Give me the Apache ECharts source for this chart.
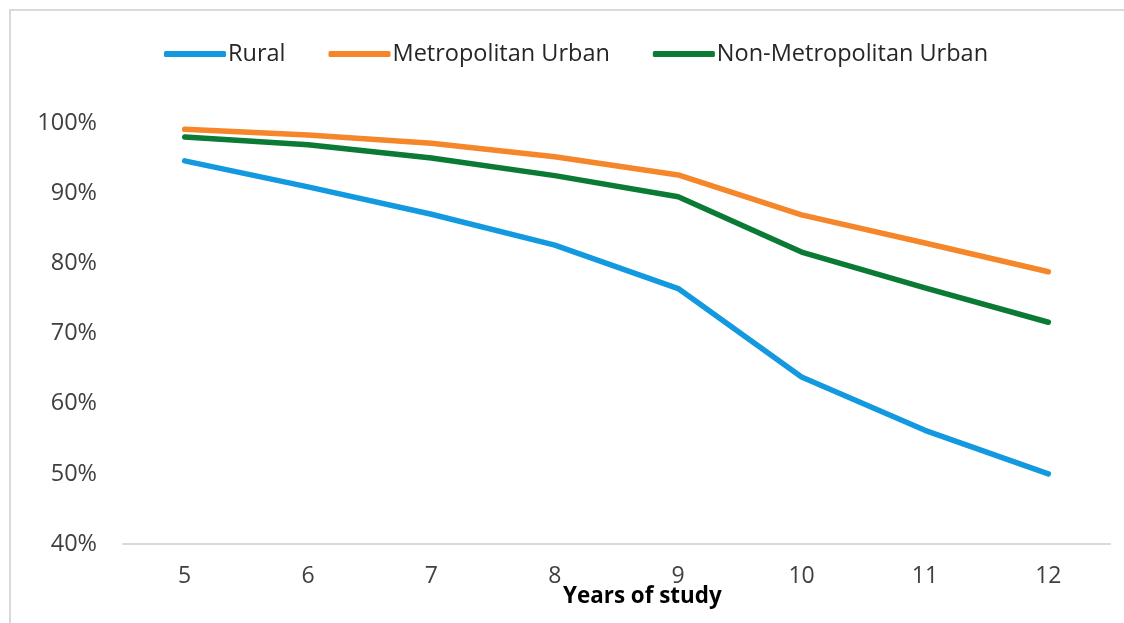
<!DOCTYPE html>
<html>
<head>
<meta charset="utf-8">
<script src="https://cdn.jsdelivr.net/npm/echarts@6/dist/echarts.min.js"></script>
<style>
  html, body { margin: 0; padding: 0; background: #ffffff; }
  #chart { width: 1124px; height: 623px; }
</style>
</head>
<body>
<div id="chart"></div>
<script>
// Share of students still enrolled, by years of study and area type (%)
const years = ['5', '6', '7', '8', '9', '10', '11', '12'];
const rural = [94.6, 90.9, 87.0, 82.6, 76.4, 63.8, 56.2, 50.0];
const metroUrban = [99.1, 98.3, 97.1, 95.2, 92.6, 86.9, 82.9, 78.8];
const nonMetroUrban = [98.0, 96.9, 95.0, 92.5, 89.5, 81.6, 76.5, 71.6];
const seriesNames = ['Rural', 'Metropolitan Urban', 'Non-Metropolitan Urban'];

const FONT = '"Open Sans", "Liberation Sans", sans-serif';
const colors = ['#1399DF', '#F5862A', '#0B7A34'];

const chart = echarts.init(document.getElementById('chart'), null, { renderer: 'canvas' });

function lineSeries(name, data, color) {
  return {
    name: name,
    type: 'line',
    data: data,
    symbol: 'none',
    smooth: false,
    lineStyle: { width: 5.5, color: color, cap: 'round', join: 'round' },
    itemStyle: { color: color }
  };
}

chart.setOption({
  animation: false,
  backgroundColor: '#ffffff',
  grid: { left: 123, right: 14, top: 123, bottom: 79, containLabel: false },
  legend: {
    top: 37,
    left: 159,
    itemWidth: 62,
    itemHeight: 6,
    itemGap: 43,
    icon: 'roundRect',
    textStyle: { fontFamily: FONT, fontSize: 23.5, color: '#262626', padding: [0, 0, 0, -3] },
    data: seriesNames
  },
  xAxis: {
    type: 'category',
    data: years,
    boundaryGap: true,
    axisLine: { show: true, lineStyle: { color: '#d9d9d9', width: 2 } },
    axisTick: { show: false },
    axisLabel: { fontFamily: FONT, fontSize: 23, color: '#404040', margin: 21 },
    splitLine: { show: false }
  },
  yAxis: {
    type: 'value',
    min: 40,
    max: 100,
    interval: 10,
    axisLine: { show: false },
    axisTick: { show: false },
    splitLine: { show: false },
    axisLabel: {
      fontFamily: FONT, fontSize: 23.5, color: '#404040', margin: 26,
      formatter: v => v + '%'
    }
  },
  graphic: [
    {
      type: 'rect',
      shape: { x: 10, y: 10, width: 1130, height: 630 },
      style: { fill: 'none', stroke: '#d9d9d9', lineWidth: 2 },
      silent: true
    },
    {
      type: 'text',
      left: 563,
      top: 586,
      style: {
        text: 'Years of study',
        font: 'bold 22.4px ' + FONT,
        fill: '#000000'
      }
    }
  ],
  series: [
    lineSeries(seriesNames[0], rural, colors[0]),
    lineSeries(seriesNames[1], metroUrban, colors[1]),
    lineSeries(seriesNames[2], nonMetroUrban, colors[2])
  ]
});
</script>
</body>
</html>
